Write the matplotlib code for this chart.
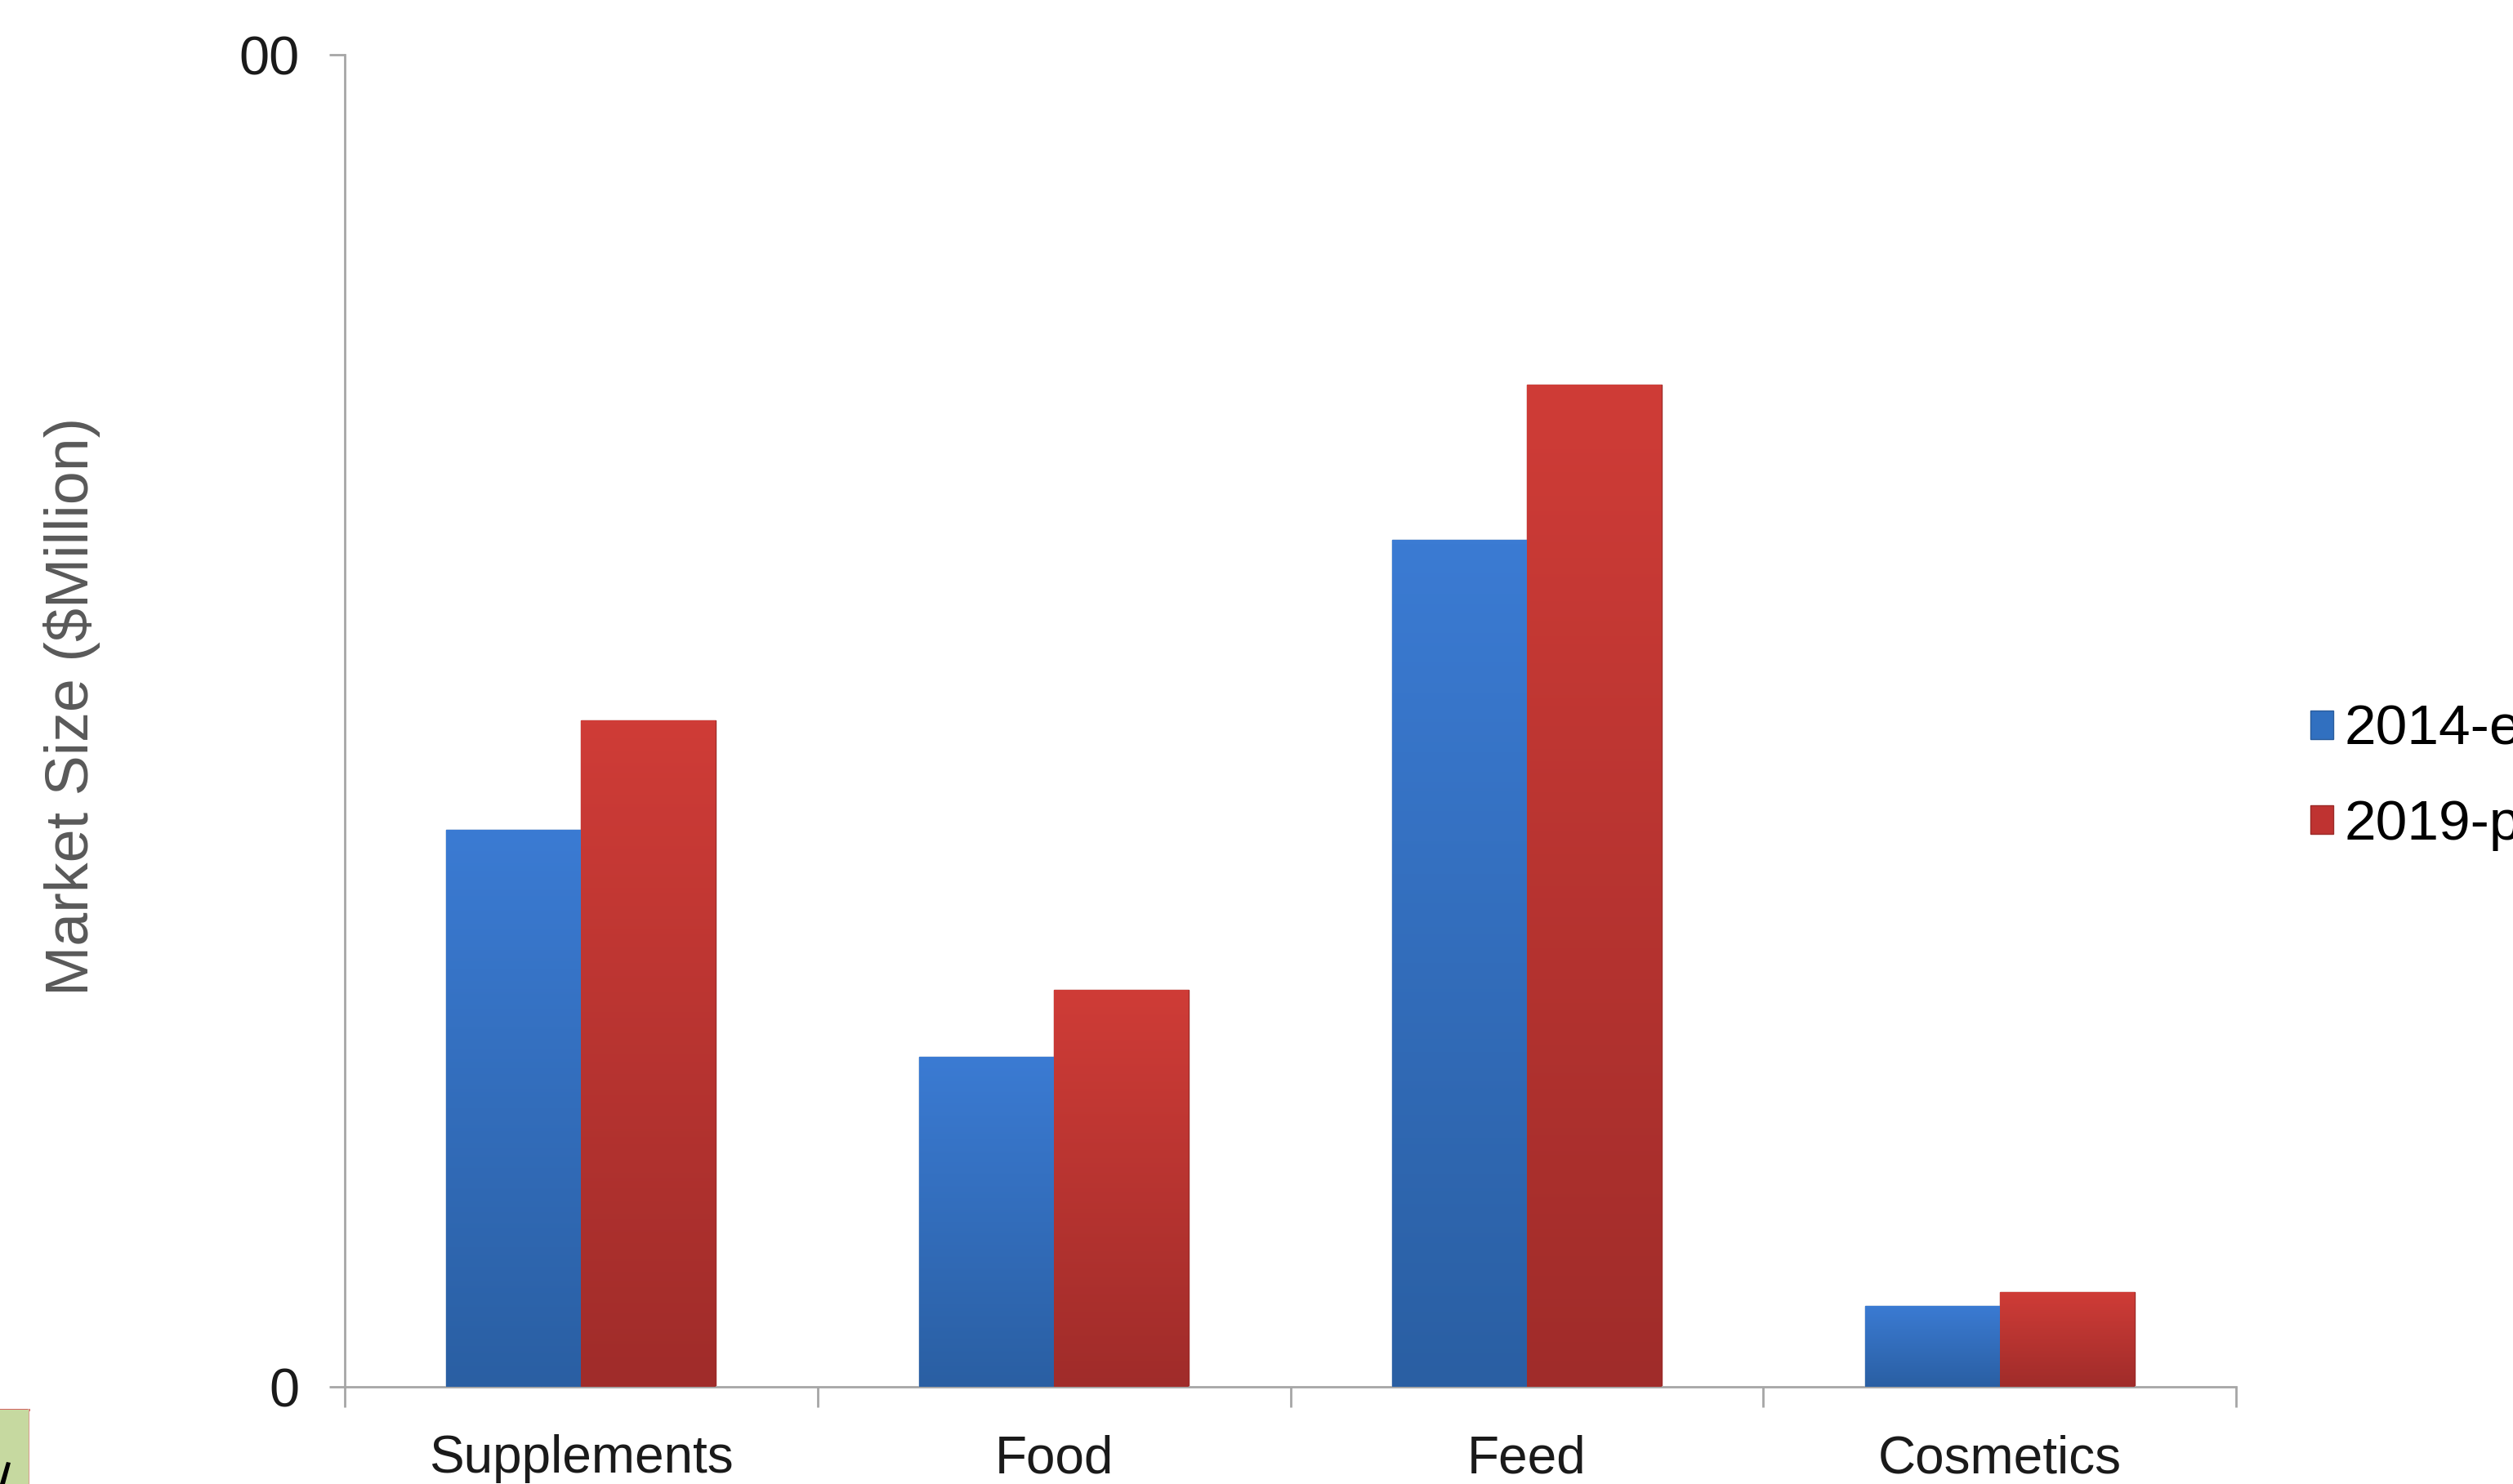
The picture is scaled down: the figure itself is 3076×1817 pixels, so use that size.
import matplotlib
matplotlib.use("Agg")
import matplotlib.pyplot as plt
import numpy as np
from matplotlib.colors import LinearSegmentedColormap
from matplotlib.patches import Rectangle, Polygon

# Market size by application segment
categories = ["Supplements", "Food", "Feed", "Cosmetics"]
series_names = ["2014-e", "2019-p"]
values_2014 = [41.8, 24.8, 63.6, 6.1]
values_2019 = [50.0, 29.8, 75.2, 7.1]
y_ticks = [0, 100]
y_tick_labels = ["0", "00"]
y_label = "Market Size ($Million)"

W, H, DPI = 3076, 1817, 100
plt.rcParams["font.family"] = ["Liberation Sans", "DejaVu Sans"]

fig = plt.figure(figsize=(W / DPI, H / DPI), dpi=DPI)
fig.patch.set_facecolor("white")
ax = fig.add_axes([422 / W, 1 - 1698 / H, (2737 - 422) / W, (1698 - 67) / H])

x = np.arange(len(categories))
bw = 0.285
bars_a = ax.bar(x - bw / 2, values_2014, bw, color="#3170c0", zorder=2,
                edgecolor="#2a5c9c", linewidth=1, label=series_names[0])
bars_b = ax.bar(x + bw / 2, values_2019, bw, color="#bf3331", zorder=2,
                edgecolor="#9a2a28", linewidth=1, label=series_names[1])


def shade(bars, top, bottom):
    """Fill each bar with a vertical gradient clipped to the bar shape."""
    cmap = LinearSegmentedColormap.from_list("bar_grad", [bottom, top])
    grad = np.linspace(0, 1, 256).reshape(-1, 1)
    for b in bars:
        x0, w, h = b.get_x(), b.get_width(), b.get_height()
        im = ax.imshow(grad, cmap=cmap, origin="lower", aspect="auto",
                       extent=[x0, x0 + w, 0, h], zorder=3,
                       interpolation="bilinear")
        im.set_clip_path(b)


shade(bars_a, "#3b7bd3", "#2a5fa3")
shade(bars_b, "#cf3c37", "#a02c2a")

ax.set_xlim(-0.5, len(categories) - 0.5)
ax.set_ylim(y_ticks[0], y_ticks[-1])

# axes styling
axis_col = "#a6a6a6"
for s in ("top", "right"):
    ax.spines[s].set_visible(False)
for s in ("left", "bottom"):
    ax.spines[s].set_color(axis_col)
    ax.spines[s].set_linewidth(2)

ax.set_xticks(x)
ax.set_xticklabels(categories, fontsize=46, color="#1a1a1a")
ax.set_xticks(np.arange(len(categories) + 1) - 0.5, minor=True)
ax.tick_params(axis="x", which="major", length=0, pad=42)
ax.tick_params(axis="x", which="minor", length=18, width=2, color=axis_col,
               direction="out")

ax.set_yticks(y_ticks)
ax.set_yticklabels(y_tick_labels, fontsize=48, color="#1a1a1a")
ax.tick_params(axis="y", length=14, width=2, color=axis_col, pad=26)

fig.text(88 / W, 1 - 865 / H, y_label, rotation=90, ha="center", va="center",
         fontsize=53, color="#595959")

fig.legend(handles=[bars_a, bars_b], labels=series_names, loc="center left",
           bbox_to_anchor=(2800 / W, 1 - 952 / H), fontsize=50,
           handlelength=0.4, handleheight=0.4, handletextpad=0.2,
           labelspacing=0.75, frameon=False, borderaxespad=0)

# green corner box
fig.patches.append(Rectangle((0, 0), 35 / W, (H - 1726) / H,
                             transform=fig.transFigure, facecolor="#c6d9a0",
                             edgecolor="none", zorder=5))
fig.lines.append(plt.Line2D([0, 35 / W], [(H - 1726) / H] * 2,
                            transform=fig.transFigure, color="#d05050", lw=2))
fig.lines.append(plt.Line2D([35 / W] * 2, [0, (H - 1726) / H],
                            transform=fig.transFigure, color="#d8a090", lw=1.5))
fig.patches.append(Polygon([(0 / W, 0 / H), (6 / W, 0 / H), (13 / W, 26 / H),
                            (8 / W, 27 / H)], closed=True,
                           transform=fig.transFigure, facecolor="black",
                           edgecolor="none", zorder=6))

fig.savefig("out.png", dpi=DPI)
